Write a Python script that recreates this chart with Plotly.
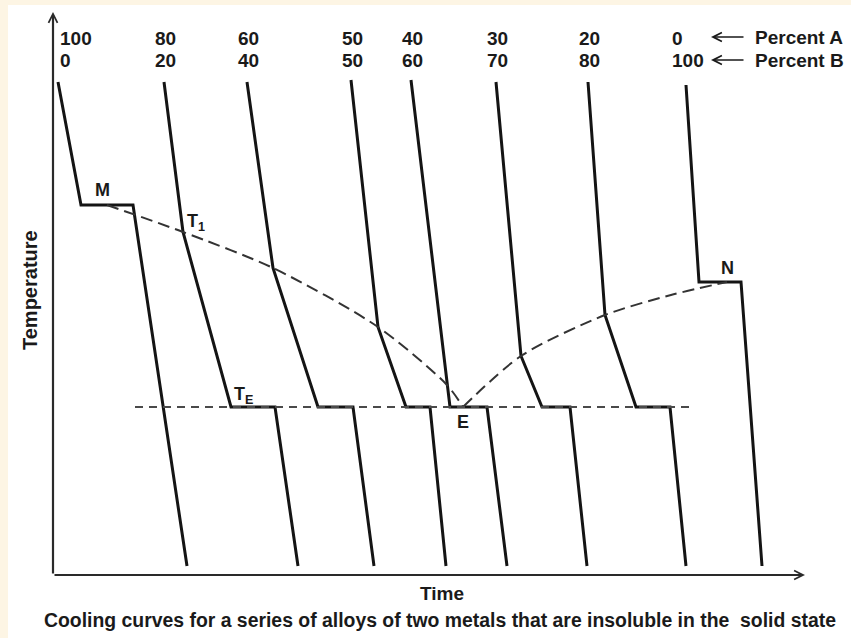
import plotly.graph_objects as go

# ---------------- data (time / temperature in arbitrary units) ----------------
percent_A = [100, 80, 60, 50, 40, 30, 20, 0]
percent_B = [0, 20, 40, 50, 60, 70, 80, 100]

curve_t = [
    [5, 28, 80, 134],
    [111, 130, 178, 222, 245],
    [194, 220, 265, 300, 321],
    [298, 325, 353, 377, 393],
    [358, 394, 397, 434, 454],
    [443, 468, 489, 517, 534],
    [535, 552, 583, 617, 633],
    [633, 646, 688, 709],
]
curve_T = [
    [493, 370, 370, 9],
    [493, 343, 168, 168, 9],
    [493, 307, 168, 168, 9],
    [495, 248, 168, 168, 9],
    [495, 190, 168, 168, 9],
    [493, 219, 168, 168, 9],
    [493, 260, 168, 168, 9],
    [490, 293, 293, 9],
]

liq_left_t = [54, 130, 220, 325, 394, 410]
liq_left_T = [370, 343, 307, 248, 190, 168]
liq_right_t = [410, 468, 552, 618, 674]
liq_right_T = [168, 219, 260, 280, 293]

eutectic_t = [82, 642]
eutectic_T = [168, 168]

point_labels = ["M", "T<sub>1</sub>", "T<sub>E</sub>", "E", "N"]
point_t = [49, 143, 190, 410, 674]
point_T = [385, 353, 180, 153, 307]

row_A_T = 537
row_B_T = 515

caption = "Cooling curves for a series of alloys of two metals that are insoluble in the&nbsp; solid state"

# ---------------- figure ----------------
INK = "#141414"
fig = go.Figure()

for t, T in zip(curve_t, curve_T):
    fig.add_trace(go.Scatter(x=t, y=T, mode="lines",
                             line=dict(color=INK, width=3), hoverinfo="skip"))

for t, T in [(liq_left_t, liq_left_T), (liq_right_t, liq_right_T)]:
    fig.add_trace(go.Scatter(x=t, y=T, mode="lines",
                             line=dict(color="#333333", width=2, dash="12px,6px",
                                       shape="spline", smoothing=0.8),
                             hoverinfo="skip"))

fig.add_trace(go.Scatter(x=eutectic_t, y=eutectic_T, mode="lines",
                         line=dict(color="#4a4a4a", width=2, dash="8px,6px"),
                         hoverinfo="skip"))

FAM = "Liberation Sans, Arial, sans-serif"
bold = dict(family=FAM, size=18, color="#1a1a1a", weight=700)
digits = dict(family=FAM, size=19, color="#1a1a1a", weight=700)

ann = []
# point labels
for lab, t, T in zip(point_labels, point_t, point_T):
    ann.append(dict(x=t, y=T, text=lab, showarrow=False, font=bold,
                    xanchor="center", yanchor="middle"))

# composition labels at the top
n = len(percent_A)
for i, (a, b) in enumerate(zip(percent_A, percent_B)):
    t0 = curve_t[i][0]
    if i == 0:
        xa, xs = "left", 0
    elif i == n - 1:
        xa, xs = "left", -16
    else:
        xa, xs = "center", 1
    ann.append(dict(x=t0, y=row_A_T, text=str(a), showarrow=False, font=digits,
                    xanchor=xa, xshift=xs, yanchor="middle"))
    ann.append(dict(x=t0, y=row_B_T, text=str(b), showarrow=False, font=digits,
                    xanchor=xa, xshift=xs, yanchor="middle"))

# "Percent A / B" with arrows
last_t = curve_t[-1][0]
for T, name in [(row_A_T + 1, "Percent A"), (row_B_T, "Percent B")]:
    ann.append(dict(x=last_t + 25, y=T, ax=last_t + 59, ay=T, axref="x", ayref="y",
                    text="", showarrow=True, arrowhead=5, arrowwidth=1.6,
                    arrowsize=1.1, arrowcolor="#1a1a1a", standoff=0, startstandoff=0))
    ann.append(dict(x=last_t + 67, y=T, text=name, showarrow=False,
                    font=dict(bold, size=19), xanchor="left", yanchor="middle"))

# axes drawn as arrows
ann.append(dict(x=0, y=563, ax=0, ay=0, axref="x", ayref="y", text="",
                showarrow=True, arrowhead=5, arrowwidth=2.2, arrowsize=0.8,
                arrowcolor="#2a2a2a", standoff=0, startstandoff=0))
ann.append(dict(x=752, y=0, ax=0, ay=0, axref="x", ayref="y", text="",
                showarrow=True, arrowhead=5, arrowwidth=2.2, arrowsize=0.8,
                arrowcolor="#2a2a2a", standoff=0, startstandoff=0))

# axis titles and caption
ann.append(dict(x=-23, y=285, text="Temperature", textangle=-90, showarrow=False,
                font=dict(bold, size=20), xanchor="center", yanchor="middle"))
ann.append(dict(x=389, y=-18, text="Time", showarrow=False,
                font=dict(bold, size=19), xanchor="center", yanchor="middle"))
ann.append(dict(x=387, y=-45, text=caption, showarrow=False,
                font=dict(family=FAM, size=19.4, color="#1a1a1a", weight=700),
                xanchor="center", yanchor="middle"))

fig.update_layout(
    width=851, height=638,
    margin=dict(l=8, r=0, t=5, b=0, autoexpand=False),
    paper_bgcolor="#fdf5e4",
    plot_bgcolor="#ffffff",
    showlegend=False,
    xaxis=dict(range=[-45, 798], visible=False, fixedrange=True),
    yaxis=dict(range=[-63, 570], visible=False, fixedrange=True),
    annotations=ann,
)

fig.write_html("out.html", config={"displayModeBar": False},
               post_script="document.body.style.margin='0px';document.body.style.padding='0px';")
